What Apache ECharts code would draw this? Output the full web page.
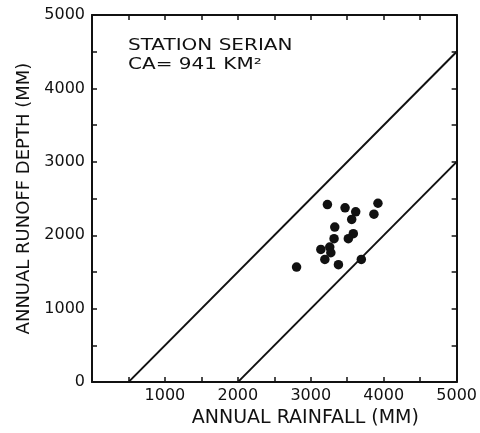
<!DOCTYPE html>
<html><head><meta charset="utf-8">
<script src="https://cdn.jsdelivr.net/npm/echarts@6/dist/echarts.min.js"></script>
<style>html,body{margin:0;padding:0;background:#fff}#c{width:480px;height:433px}</style>
</head><body><div id="c"></div>
<script>
const rainfall = [3228,3470,3616,3561,3921,3866,3329,3583,3515,3319,3260,3138,3275,3193,3379,3693,2805];
const runoff   = [2418,2374,2319,2215,2436,2287,2111,2021,1953,1953,1839,1807,1762,1671,1599,1671,1567];
const upperLine = [[500,0],[5000,4500]];
const lowerLine = [[2000,0],[5000,3000]];
const xTicks = [1000,2000,3000,4000,5000];
const yTicks = [0,1000,2000,3000,4000,5000];
const titleLines = ['STATION SERIAN','CA= 941 KM²'];

const font = 'DejaVu Sans, sans-serif';
const chart = echarts.init(document.getElementById('c'));
function axisBase() {
  return {
    type:'value', min:0, max:5000, interval:500,
    axisLine:{show:true, onZero:false, lineStyle:{color:'#111', width:2}},
    axisTick:{show:true, inside:true, length:5, lineStyle:{color:'#111', width:1.5}},
    splitLine:{show:false}
  };
}
chart.setOption({
  animation:false,
  grid:{left:92, right:22, top:15, bottom:50},
  xAxis:[
    Object.assign(axisBase(), {position:'bottom',
      name:'ANNUAL RAINFALL (MM)', nameLocation:'middle', nameGap:26,
      nameTextStyle:{fontFamily:font, fontSize:19, color:'#111', padding:[0,0,0,62]},
      axisLabel:{fontFamily:font, fontSize:16, color:'#111', margin:6,
        formatter:v => xTicks.includes(v) ? String(v) : ''}}),
    Object.assign(axisBase(), {position:'top', axisLabel:{show:false}})
  ],
  yAxis:[
    Object.assign(axisBase(), {position:'left',
      name:'ANNUAL RUNOFF DEPTH (MM)', nameLocation:'middle', nameGap:43,
      nameTextStyle:{fontFamily:font, fontSize:18, color:'#111'},
      axisLabel:{fontFamily:font, fontSize:16, color:'#111', margin:7,
        formatter:v => yTicks.includes(v) ? String(v) : ''}}),
    Object.assign(axisBase(), {position:'right', axisLabel:{show:false}})
  ],
  graphic:[{type:'text', x:128, y:36, scaleX:1.25,
    style:{text:titleLines.join('\n'), font:'16px ' + font, fill:'#111', lineHeight:19, verticalAlign:'top'}}],
  series:[
    {type:'line', data:upperLine, symbol:'none', lineStyle:{color:'#111', width:2}},
    {type:'line', data:lowerLine, symbol:'none', lineStyle:{color:'#111', width:2}},
    {type:'scatter', data:rainfall.map((x,i)=>[x, runoff[i]]), symbol:'circle', symbolSize:9.5,
      itemStyle:{color:'#111', opacity:1}}
  ]
});
</script></body></html>
